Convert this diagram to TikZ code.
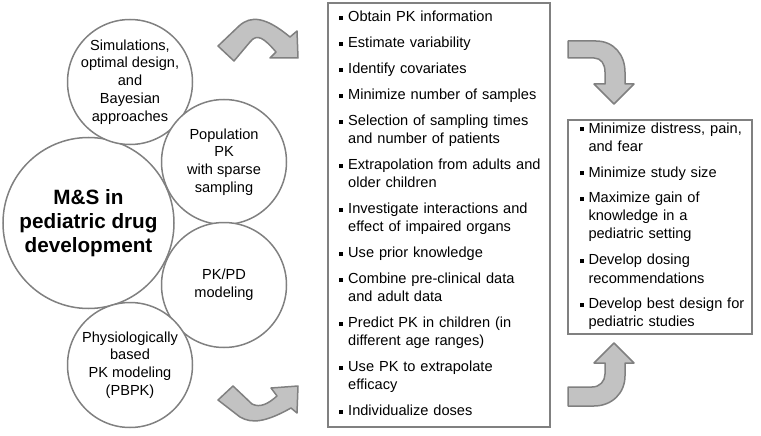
\documentclass[tikz,border=0pt]{standalone}
\usepackage{fontspec}
\setmainfont{Liberation Sans}
\usepackage{xcolor}
\definecolor{lineGray}{gray}{0.5}
\definecolor{arrowGray}{gray}{0.76}
\newcommand{\sqbul}{\makebox[9pt][l]{\rule[1.8pt]{4pt}{4pt}}}
\newcommand{\hang}{\hspace*{9pt}}

\tikzset{
  ring/.style={circle, draw=lineGray, line width=1.5pt, fill=white, inner sep=0pt},
  ringtext/.style={align=center, font=\fontsize{14.6}{17.8}\selectfont},
  frame/.style={rectangle, draw=lineGray, line width=2pt, inner sep=0pt},
  items/.style={anchor=base west, inner sep=0pt, align=left, text width=#1, font=\fontsize{14.6}{18}\selectfont},
  bent/.style={fill=arrowGray, draw=lineGray, line width=1.5pt, line join=round}
}

\begin{document}
\begin{tikzpicture}[x=1pt, y=-1pt]
        \useasboundingbox (0,0) rectangle (761,436);
        % circles on the left
        \node [ring, minimum size=171pt] (ms) at (88.5,223) {};
        \node [ring, minimum size=125pt] (sim) at (130,82) {};
        \node [ring, minimum size=125pt] (pop) at (224,162) {};
        \node [ring, minimum size=125pt] (pkpd) at (224,285) {};
        \node [ring, minimum size=125pt] (pbpk) at (130,365) {};
        \node [align=center, font=\fontsize{20.7}{24}\selectfont\bfseries] (mstxt) at (ms) {M\&S in\\pediatric drug\\development};
        \node [ringtext] (simtxt) at (sim) {Simulations,\\optimal design,\\and\\Bayesian\\approaches};
        \node [ringtext] (poptxt) at (pop) {Population\\PK\\with sparse\\sampling};
        \node [ringtext] (pkpdtxt) at (pkpd) {PK/PD\\modeling};
        \node [ringtext] (pbpktxt) at (pbpk) {Physiologically\\based\\PK modeling\\(PBPK)};

        % boxes
        \node [frame, minimum width=222pt, minimum height=424pt] (aims) at (439,215) {};
        \node [frame, minimum width=184pt, minimum height=214pt] (gains) at (660,227) {};
        \node [items=205pt] (aimstxt) at (339,22) {\sqbul Obtain PK information\\[8pt]
          \sqbul Estimate variability\\[8pt]
          \sqbul Identify covariates\\[8pt]
          \sqbul Minimize number of samples\\[8pt]
          \sqbul Selection of sampling times\\ \hang and number of patients\\[8pt]
          \sqbul Extrapolation from adults and\\ \hang older children\\[8pt]
          \sqbul Investigate interactions and\\ \hang effect of impaired organs\\[8pt]
          \sqbul Use prior knowledge\\[8pt]
          \sqbul Combine pre-clinical data\\ \hang and adult data\\[8pt]
          \sqbul Predict PK in children (in\\ \hang different age ranges)\\[8pt]
          \sqbul Use PK to extrapolate\\ \hang efficacy\\[8pt]
          \sqbul Individualize doses};
        \node [items=170pt] (gainstxt) at (579.3,133) {\sqbul Minimize distress, pain,\\ \hang and fear\\[8pt]
          \sqbul Minimize study size\\[8pt]
          \sqbul Maximize gain of\\ \hang knowledge in a\\ \hang pediatric setting\\[8pt]
          \sqbul Develop dosing\\ \hang recommendations\\[8pt]
          \sqbul Develop best design for\\ \hang pediatric studies};

        % bent arrows
        \draw [bent] (218,46) -- (239,26) .. controls (251,15) and (266,17) .. (290,37) -- (297,31) -- (298,58) -- (270,58) -- (276,52) .. controls (264,38) and (257,33) .. (250,42) -- (234,61) -- cycle;
        \draw [bent] (218,400) -- (240,417) .. controls (252,424) and (266,422) .. (291,408) -- (297,413) -- (298,386) -- (271,388) -- (277,396) .. controls (268,404) and (260,408) .. (252,404) -- (233,386) -- cycle;
        \draw [bent] (568,41) -- (596,41) .. controls (614,41) and (625,55) .. (625,72) -- (625,84) -- (634,84) -- (614,104) -- (594,84) -- (605,84) -- (605,72) .. controls (605,64) and (601,58) .. (594,58) -- (568,58) -- cycle;
        \draw [bent] (568,387) -- (592,387) .. controls (600,387) and (605,381) .. (605,374) -- (605,363) -- (594,363) -- (614,343) -- (634,363) -- (625,363) -- (625,376) .. controls (625,393) and (612,406) .. (594,406) -- (568,406) -- cycle;
      \end{tikzpicture}
\end{document}
